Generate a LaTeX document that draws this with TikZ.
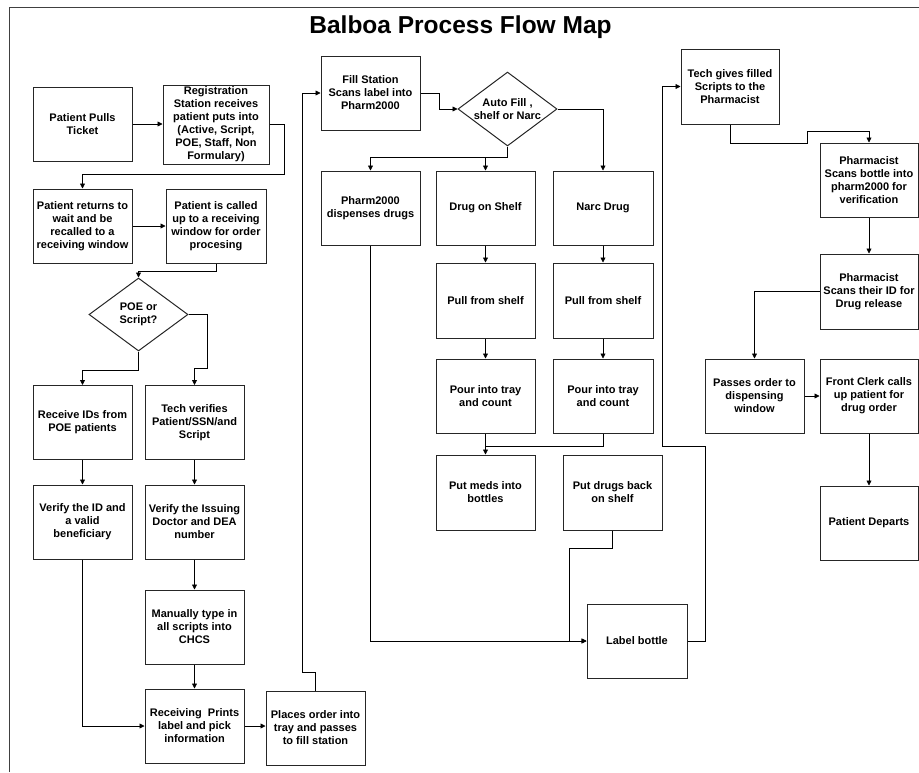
\documentclass[tikz,border=0pt]{standalone}
\usepackage{fontspec}
\setmainfont{Liberation Sans}
\usetikzlibrary{arrows.meta,shapes.geometric}
\begin{document}
\begin{tikzpicture}[x=1pt,y=-1pt,
  box/.style={draw=black!85, line width=1pt, minimum width=99pt, minimum height=74pt, inner sep=0pt, align=center, font=\fontsize{11}{13}\selectfont\bfseries},
  dia/.style={draw=black!85, line width=1pt, shape=diamond, aspect=1.35, minimum width=99pt, minimum height=74pt, inner sep=-3pt, align=center, font=\fontsize{11}{13}\selectfont\bfseries},
  arr/.style={line width=0.8pt, -{Triangle[length=5pt,width=5pt]}},
  ln/.style={line width=0.8pt}]
\useasboundingbox (0,0) rectangle (919,772);
\draw[line width=1pt, black!75] (9,772) -- (9,7) -- (919,7);
\node[anchor=base, font=\fontsize{24.5}{28}\selectfont\bfseries] (title) at (460.5,33) {Balboa Process Flow Map};
% left area
\node[box] (ppt) at (82.5,124) {Patient Pulls\\Ticket};
\node[box, minimum width=106pt, minimum height=79pt] (reg) at (216,124.5) {Registration\\Station receives\\patient puts into\\(Active, Script,\\POE, Staff, Non\\Formulary)};
\node[box] (ret) at (82.5,226) {Patient returns to\\wait and be\\recalled to a\\receiving window};
\node[box, minimum width=100pt] (called) at (216,226) {Patient is called\\up to a receiving\\window for order\\procesing};
\node[dia, minimum height=73pt] (poe) at (138.5,314.5) {POE or\\Script?};
\node[box] (rid) at (82.5,422.5) {Receive IDs from\\POE patients};
\node[box] (tv) at (194.5,422.5) {Tech verifies\\Patient/SSN/and\\Script};
\node[box] (vid) at (82.5,522) {Verify the ID and\\a valid\\beneficiary};
\node[box] (vdoc) at (194.5,522) {Verify the Issuing\\Doctor and DEA\\number};
\node[box] (man) at (194.5,627) {Manually type in\\all scripts into\\CHCS};
\node[box] (rp) at (194.5,726) {Receiving\ \ Prints\\label and pick\\information};
\node[box] (place) at (315.5,728) {Places order into\\tray and passes\\to fill station};
% middle area
\node[box] (fill) at (370.5,93) {Fill Station\\Scans label into\\Pharm2000};
\node[dia] (auto) at (507.5,109) {Auto Fill ,\\shelf or Narc};
\node[box] (p2k) at (370.5,208) {Pharm2000\\dispenses drugs};
\node[box] (dos) at (485.5,208) {Drug on Shelf};
\node[box, minimum width=100pt] (narc) at (603,208) {Narc Drug};
\node[box, minimum height=75pt] (pull1) at (485.5,300.5) {Pull from shelf};
\node[box, minimum width=100pt, minimum height=75pt] (pull2) at (603,300.5) {Pull from shelf};
\node[box] (pour1) at (485.5,396) {Pour into tray\\and count};
\node[box, minimum width=100pt] (pour2) at (603,396) {Pour into tray\\and count};
\node[box, minimum height=75pt] (meds) at (485.5,492.5) {Put meds into\\bottles};
\node[box, minimum height=75pt] (back) at (612.5,492.5) {Put drugs back\\on shelf};
\node[box, minimum width=100pt] (label) at (637,641) {Label bottle};
% right area
\node[box, minimum width=98pt, minimum height=75pt] (tech) at (730,86.5) {Tech gives filled\\Scripts to the\\Pharmacist};
\node[box, minimum width=98pt] (pscan) at (869,180) {Pharmacist\\Scans bottle into\\pharm2000 for\\verification};
\node[box, minimum width=98pt, minimum height=75pt] (pid) at (869,291.5) {Pharmacist\\Scans their ID for\\Drug release};
\node[box] (pass) at (754.5,396) {Passes order to\\dispensing\\window};
\node[box, minimum width=98pt] (front) at (869,396) {Front Clerk calls\\up patient for\\drug order};
\node[box, minimum width=98pt] (dep) at (869,523) {Patient Departs};
% connectors left
\draw[arr] (ppt.east) -- (ppt.east -| reg.west);
\draw[arr] (reg.east) -- (284,124.5) -- (284,174) -- (82.5,174) -- (ret.north);
\draw[arr] (ret.east) -- (called.west);
\draw[arr] (called.south) -- (216,271) -- (138.5,271) -- (poe.north);
\draw[arr] (poe.south) -- (138.5,370) -- (82.5,370) -- (rid.north);
\draw[arr] (poe.east) -- (207,314.5) -- (207,368) -- (194.5,368) -- (tv.north);
\draw[arr] (rid.south) -- (vid.north);
\draw[arr] (tv.south) -- (vdoc.north);
\draw[arr] (vdoc.south) -- (man.north);
\draw[arr] (man.south) -- (rp.north);
\draw[arr] (vid.south) |- (rp.west);
\draw[arr] (rp.east) -- (rp.east -| place.west);
\draw[arr] (place.north) -- (315.5,672) -- (302,672) -- (302,93) -- (fill.west);
% connectors middle
\draw[arr] (fill.east) -- (439,93) -- (439,109) -- (auto.west);
\draw[arr] (auto.south) -- (507.5,157) -| (p2k.north);
\draw[arr] (auto.south) -- (507.5,157) -| (dos.north);
\draw[arr] (auto.east) -| (narc.north);
\draw[arr] (dos.south) -- (pull1.north);
\draw[arr] (narc.south) -- (pull2.north);
\draw[arr] (pull1.south) -- (pour1.north);
\draw[arr] (pull2.south) -- (pour2.north);
\draw[arr] (pour1.south) -- (meds.north);
\draw[ln] (pour2.south) -- (603,446) -- (485.5,446);
\draw[arr] (back.south) -- (612.5,548) -- (569,548) -- (569,641) -- (label.west);
\draw[arr] (p2k.south) |- (label.west);
\draw[arr] (label.east) -- (705,641) -- (705,446) -- (662,446) -- (662,86.5) -- (tech.west);
% connectors right
\draw[arr] (tech.south) -- (730,143) -- (807,143) -- (807,131) -- (869,131) -- (pscan.north);
\draw[arr] (pscan.south) -- (pid.north);
\draw[arr] (pid.west) -| (pass.north);
\draw[arr] (pass.east) -- (front.west);
\draw[arr] (front.south) -- (dep.north);
\end{tikzpicture}
\end{document}
